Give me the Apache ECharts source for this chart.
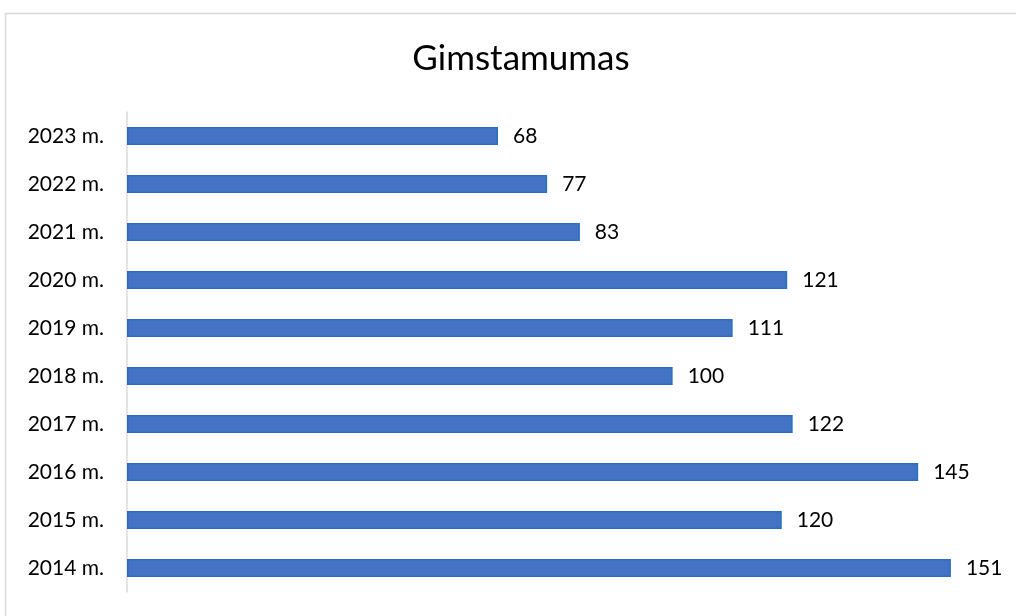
<!DOCTYPE html>
<html>
<head>
<meta charset="utf-8">
<script src="https://cdn.jsdelivr.net/npm/echarts@6/dist/echarts.min.js"></script>
<style>
html,body{margin:0;padding:0;background:#fff;}
#chart{width:1016px;height:616px;}
</style>
</head>
<body>
<div id="chart"></div>
<script>
const categories = ['2014 m.', '2015 m.', '2016 m.', '2017 m.', '2018 m.', '2019 m.', '2020 m.', '2021 m.', '2022 m.', '2023 m.'];
const values = [151, 120, 145, 122, 100, 111, 121, 83, 77, 68];
const titleText = 'Gimstamumas';

const chart = echarts.init(document.getElementById('chart'));
chart.setOption({
  animation: false,
  backgroundColor: '#fff',
  textStyle: { fontFamily: 'Lato' },
  graphic: [
    {
      type: 'rect',
      shape: { x: 5.5, y: 13.5, width: 1200, height: 800 },
      style: { fill: 'none', stroke: '#d9d9d9', lineWidth: 1.5 },
      silent: true
    },
    {
      type: 'text',
      x: 521, y: 59,
      style: {
        text: titleText,
        font: '35px Lato',
        fill: '#000',
        textAlign: 'center',
        textVerticalAlign: 'middle'
      }
    }
  ],
  grid: { left: 127, right: 16, top: 112, bottom: 24, containLabel: false },
  xAxis: {
    type: 'value', min: 0, max: 160, show: false,
    splitLine: { show: false }
  },
  yAxis: {
    type: 'category',
    data: categories,
    axisLine: { show: true, lineStyle: { color: '#d9d9d9', width: 1.5 } },
    axisTick: { show: false },
    axisLabel: { color: '#000', fontSize: 21, fontFamily: 'Lato', margin: 23 }
  },
  series: [{
    type: 'bar',
    data: values,
    barWidth: 18,
    itemStyle: { color: '#4472C4', borderColor: '#2a6fbf', borderWidth: 1.5 },
    label: {
      show: true, position: 'right', distance: 15,
      color: '#000', fontSize: 21, fontFamily: 'Lato'
    }
  }]
});
</script>
</body>
</html>
